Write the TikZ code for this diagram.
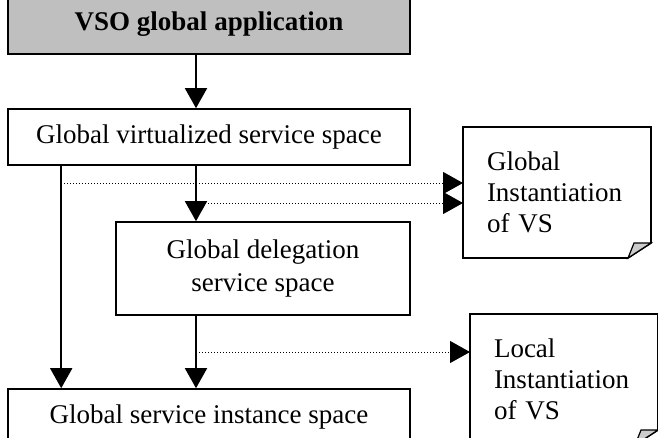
\documentclass[tikz,border=0pt]{standalone}
\usepackage{fontspec}
\setmainfont{Liberation Serif}
\usetikzlibrary{arrows.meta,positioning}

\tikzset{
  spacebox/.style={draw, line width=1.6pt, fill=white, inner sep=0pt,
    font=\fontsize{27}{33}\selectfont, align=center},
  docbox/.style={inner sep=0pt, minimum width=188pt, minimum height=131pt,
    font=\fontsize{27}{31}\selectfont, align=left, text width=160pt},
  arr/.style={line width=1.6pt, -{Triangle[length=20pt,width=22pt]}},
  dotarr/.style={line width=1pt, dotted, -{Triangle[length=20pt,width=22pt]}},
}

\begin{document}
\begin{tikzpicture}[x=1pt,y=-1pt]
    \useasboundingbox[clip] (0,0) rectangle (658,437);
    % Stack of service spaces
    \node[spacebox, fill=gray!50, minimum width=402pt, minimum height=59pt,
      font=\fontsize{27}{33}\selectfont\bfseries] (app) at (209,24.5) {VSO global application};
    \node[spacebox, minimum width=402pt, minimum height=56pt] (gvs) at (209,137) {Global virtualized service space};
    \node[spacebox, minimum width=294pt, minimum height=93pt] (gds) at (263,268.5) {Global delegation\\service space};
    \node[spacebox, minimum width=402pt, minimum height=56pt] (gsi) at (209,417) {Global service instance space};
    % Instantiation documents (outline drawn first, text on top)
    \foreach \d/\x/\y in {ginst/557/192.5, linst/564/379.5}{
      \coordinate (\d) at (\x,\y);
      \draw[line width=1.6pt, fill=white] ([shift={(-94,-65.5)}]\d) -- ([shift={(94,-65.5)}]\d)
        -- ([shift={(94,50.5)}]\d) -- ([shift={(71,65.5)}]\d)
        -- ([shift={(-94,65.5)}]\d) -- cycle;
      \draw[line width=1.2pt, fill=gray!40] ([shift={(71,65.5)}]\d)
        .. controls ([shift={(74,58)}]\d) .. ([shift={(77,50.5)}]\d)
        -- ([shift={(94,50.5)}]\d) -- cycle;
    }
    \node[docbox] (gtext) at ([xshift=10]ginst) {Global\\Instantiation\\of VS};
    \node[docbox] (ltext) at ([xshift=10]linst) {Local\\Instantiation\\of VS};
    % Connectors
    \coordinate (split) at ([xshift=54]gvs.south west);
    \coordinate (gedge) at ([xshift=-94]ginst);
    \coordinate (ledge) at ([xshift=-94]linst);
    \draw[arr] (app.south -| 196,0) -- (gvs.north -| 196,0);
    \draw[arr] (gvs.south -| 196,0) -- (gds.north -| 196,0);
    \draw[arr] (gds.south -| 196,0) -- (gsi.north -| 196,0);
    \draw[arr] (split) -- (gsi.north -| split);
    \draw[dotarr] (split |- 0,183) -- (gedge |- 0,183);
    \draw[dotarr] (196,203) -- (gedge |- 0,203);
    \draw[dotarr] (196,352) -- (ledge |- 0,352);
\end{tikzpicture}
\end{document}
